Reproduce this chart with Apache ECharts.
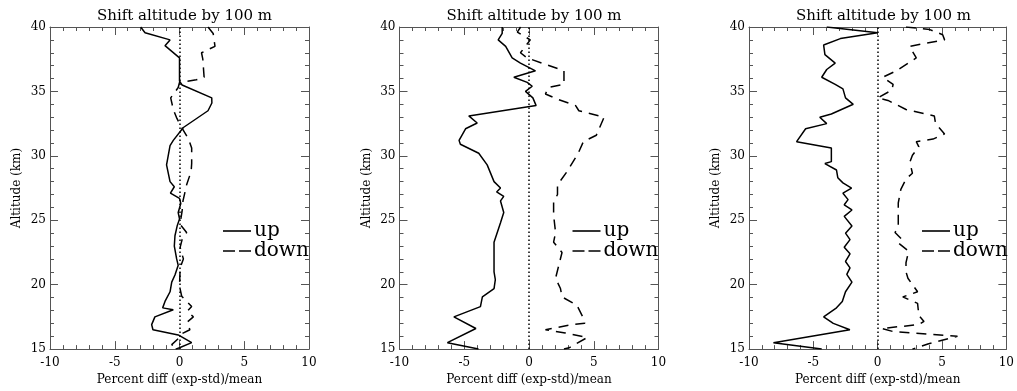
<!DOCTYPE html>
<html><head><meta charset="utf-8">
<script src="https://cdn.jsdelivr.net/npm/echarts@6/dist/echarts.min.js"></script>
<style>html,body{margin:0;padding:0;background:#fff}#c{width:1017px;height:391px}</style>
</head><body><div id="c"></div>
<script>
// [percent diff, altitude km]
const up1 = [[-3.0,40],[-2.66,39.56],[-0.73,39.0],[-1.12,38.55],[0,37.6],[0,35.8],[0.2,35.5],[2.49,34.5],[2.5,34.1],[2.2,33.5],[0.3,32.2],[-0.48,31.2],[-0.73,30.8],[-1.0,29.3],[-0.73,28.0],[-0.4,27.6],[-0.7,27.1],[0,26.7],[0.1,26.3],[-0.1,25.6],[0,25.1],[-0.17,24.6],[-0.35,23.8],[-0.4,23.0],[-0.22,22.0],[-0.1,21.5],[-0.35,20.75],[-0.6,20.2],[-0.73,19.45],[-1.12,18.7],[-1.3,18.2],[-0.48,18.05],[-1.9,17.5],[-2.15,16.9],[-2.05,16.5],[-0.1,16.1],[0.94,15.5],[0,15.1],[-0.3,15.0]];
const down1 = [[2.2,40],[2.6,39.5],[2.74,38.5],[1.7,38.0],[1.8,37.5],[1.9,36.1],[1.3,35.9],[0,35.7],[-0.1,35.3],[-0.68,34.5],[-0.48,33.6],[-0.2,32.9],[0.17,32.2],[0.7,31.3],[0.94,30.6],[0.94,29.4],[0.9,28.8],[0.55,27.75],[0.45,27.3],[0.27,26.5],[0.2,25.7],[0.04,24.7],[0.55,24.05],[0.2,23.5],[0.05,22.9],[0.3,22.0],[0.05,21.3],[0,19.9],[0.17,19.1],[0.94,18.3],[0.6,17.95],[1.07,17.5],[0.6,17.1],[0.8,16.5],[0.2,16.2],[0,15.9],[-0.6,15.35],[-0.3,15.0]];
const up2 = [[-2.07,40],[-2.07,39.5],[-2.38,39.0],[-1.8,38.5],[-1.3,37.6],[-0.66,37.2],[0.5,36.6],[-1.17,36.1],[-0.14,35.7],[0.25,35.4],[-0.27,35.0],[0.3,34.5],[0.55,33.9],[-4.65,33.1],[-4.0,32.55],[-4.9,32.1],[-5.4,31.2],[-5.3,30.9],[-3.88,30.2],[-3.23,29.3],[-2.7,28.0],[-2.2,27.5],[-2.5,27.2],[-1.95,26.85],[-2.2,26.5],[-1.95,25.6],[-2.2,24.8],[-2.7,23.3],[-2.7,21.0],[-2.6,20.4],[-2.7,19.7],[-3.6,19.05],[-3.75,18.3],[-5.8,17.5],[-4.1,16.6],[-6.3,15.5],[-3.9,15.0]];
const down2 = [[-0.65,40],[-0.9,39.6],[0.1,39.0],[-0.66,38.0],[-0.14,37.6],[2.7,36.6],[2.7,35.55],[1.5,35.3],[1.27,34.8],[2.2,34.4],[3.6,33.9],[3.85,33.5],[5.8,33.0],[5.2,31.6],[4.2,31.1],[3.8,30.2],[2.95,28.8],[2.2,27.75],[2.2,27.0],[1.9,26.4],[1.9,25.4],[2.05,24.05],[1.9,23.3],[2.55,22.5],[2.3,21.5],[2.05,20.5],[2.43,19.7],[2.55,19.05],[3.7,18.4],[4.2,17.4],[4.3,17.0],[3.3,16.9],[1.27,16.5],[2.8,16.25],[4.5,15.9],[3.1,15.1],[2.7,15.0]];
const up3 = [[-3.96,40],[0,39.56],[-2.9,39.1],[-4.2,38.6],[-4.1,37.85],[-3.3,37.2],[-3.96,36.7],[-4.35,36.1],[-3.3,35.55],[-2.7,35.2],[-2.5,34.5],[-1.9,34.0],[-3.6,33.25],[-4.5,33.0],[-3.96,32.5],[-5.6,32.1],[-6.3,31.1],[-3.6,30.6],[-3.6,29.55],[-4.1,29.4],[-3.2,28.9],[-3.1,28.3],[-2.7,27.9],[-2.03,27.5],[-2.7,27.1],[-2.3,26.6],[-2.6,26.2],[-2.0,25.8],[-2.6,25.3],[-2.0,24.55],[-2.5,24.0],[-2.15,23.5],[-2.6,22.9],[-2.15,22.4],[-2.5,21.8],[-2.15,21.3],[-2.4,20.8],[-2.0,20.2],[-2.5,19.45],[-2.75,18.7],[-3.2,18.2],[-4.2,17.5],[-3.45,17.0],[-2.16,16.5],[-8.1,15.5],[-4.35,15.0]];
const down3 = [[2.2,40],[4.05,39.8],[5.05,39.4],[5.2,39.0],[3.75,38.75],[2.5,38.5],[2.7,38.1],[3.0,37.6],[1.45,36.6],[0.4,36.1],[1.2,35.55],[1.1,35.1],[0,34.5],[0.8,34.3],[2.2,33.6],[4.4,33.1],[4.5,32.5],[5.2,31.7],[4.3,31.3],[3.0,31.1],[3.2,30.7],[2.7,30.05],[2.5,29.5],[2.7,28.65],[2.2,28.2],[1.8,27.4],[1.6,26.35],[1.6,24.55],[1.35,24.05],[1.9,23.5],[1.65,23.2],[2.4,22.6],[2.2,21.7],[2.2,21.0],[2.35,20.5],[3.1,19.45],[1.95,19.05],[3.1,18.55],[3.2,17.6],[3.6,17.15],[3.2,16.9],[0.3,16.6],[1.25,16.35],[6.2,16.0],[3.9,15.4],[2.7,15.0]];

const panelTitle = 'Shift altitude by 100 m';
const xName = 'Percent diff (exp-std)/mean';
const yName = 'Altitude (km)';
const seriesNames = ['up', 'down'];
const panels = [[up1, down1], [up2, down2], [up3, down3]];

const FONT = 'DejaVu Serif';
const AX = '#555';
const gridLefts = [50, 399.5, 749];
const GW = 259, GT = 27, GH = 326;
const ICON_SOLID = 'path://M0,0H28V1.6H0Z';
const ICON_DASH = 'path://M0,0H12V1.6H0Z M16,0H28V1.6H16Z';

const grids = [], xAxes = [], yAxes = [], series = [], titles = [], legends = [];
const tickCommon = () => ({
  axisLine: { show: true, onZero: false, lineStyle: { color: AX, width: 1 } },
  axisTick: { show: true, inside: true, length: 8, lineStyle: { color: AX } },
  minorTick: { show: true, splitNumber: 5, length: 4, lineStyle: { color: AX } },
  splitLine: { show: false }
});
panels.forEach((p, g) => {
  const L = gridLefts[g];
  grids.push({ left: L, top: GT, width: GW, height: GH });
  titles.push({ text: panelTitle, left: L + GW / 2, top: 4, textAlign: 'center',
    textStyle: { fontFamily: FONT, fontSize: 15, fontWeight: 'normal', color: '#000' } });
  xAxes.push(Object.assign({ type: 'value', gridIndex: g, position: 'bottom', min: -10, max: 10, interval: 5,
    name: xName, nameLocation: 'middle', nameGap: 21,
    nameTextStyle: { fontFamily: FONT, fontSize: 12, color: '#000' },
    axisLabel: { fontFamily: FONT, fontSize: 12, color: '#000', margin: 8 } }, tickCommon()));
  xAxes.push(Object.assign({ type: 'value', gridIndex: g, position: 'top', min: -10, max: 10, interval: 5,
    axisLabel: { show: false } }, tickCommon()));
  yAxes.push(Object.assign({ type: 'value', gridIndex: g, position: 'left', min: 15, max: 40, interval: 5,
    name: yName, nameLocation: 'middle', nameGap: 27,
    nameTextStyle: { fontFamily: FONT, fontSize: 12, color: '#000' },
    axisLabel: { fontFamily: FONT, fontSize: 12, color: '#000', margin: 4 } }, tickCommon()));
  yAxes.push(Object.assign({ type: 'value', gridIndex: g, position: 'right', min: 15, max: 40, interval: 5,
    axisLabel: { show: false } }, tickCommon()));
  series.push({ name: seriesNames[0], type: 'line', xAxisIndex: 2 * g, yAxisIndex: 2 * g, data: p[0],
    showSymbol: false, symbol: 'none', lineStyle: { color: '#000', width: 1.5, type: 'solid' }, itemStyle: { color: '#000' },
    animation: false,
    markLine: { silent: true, symbol: 'none', label: { show: false },
      lineStyle: { color: '#000', width: 1.5, type: [1.5, 2.5] }, data: [{ xAxis: 0 }] } });
  series.push({ name: seriesNames[1], type: 'line', xAxisIndex: 2 * g, yAxisIndex: 2 * g, data: p[1],
    showSymbol: false, symbol: 'none', lineStyle: { color: '#000', width: 1.5, type: [10, 7] }, itemStyle: { color: '#000' },
    animation: false });
  legends.push({
    data: [{ name: seriesNames[0], icon: ICON_SOLID }, { name: seriesNames[1], icon: ICON_DASH }],
    orient: 'vertical', left: L + 168, top: 216, itemWidth: 28, itemHeight: 2, itemGap: 0,
    selectedMode: false,
    itemStyle: { color: '#000', borderWidth: 0 },
    textStyle: { fontFamily: FONT, fontSize: 20, color: '#000', lineHeight: 19, padding: [0, 0, 0, -2] } });
});

const chart = echarts.init(document.getElementById('c'), null, { renderer: 'canvas' });
chart.setOption({
  animation: false,
  backgroundColor: '#fff',
  title: titles,
  legend: legends,
  grid: grids,
  xAxis: xAxes,
  yAxis: yAxes,
  series: series
});
</script></body></html>
